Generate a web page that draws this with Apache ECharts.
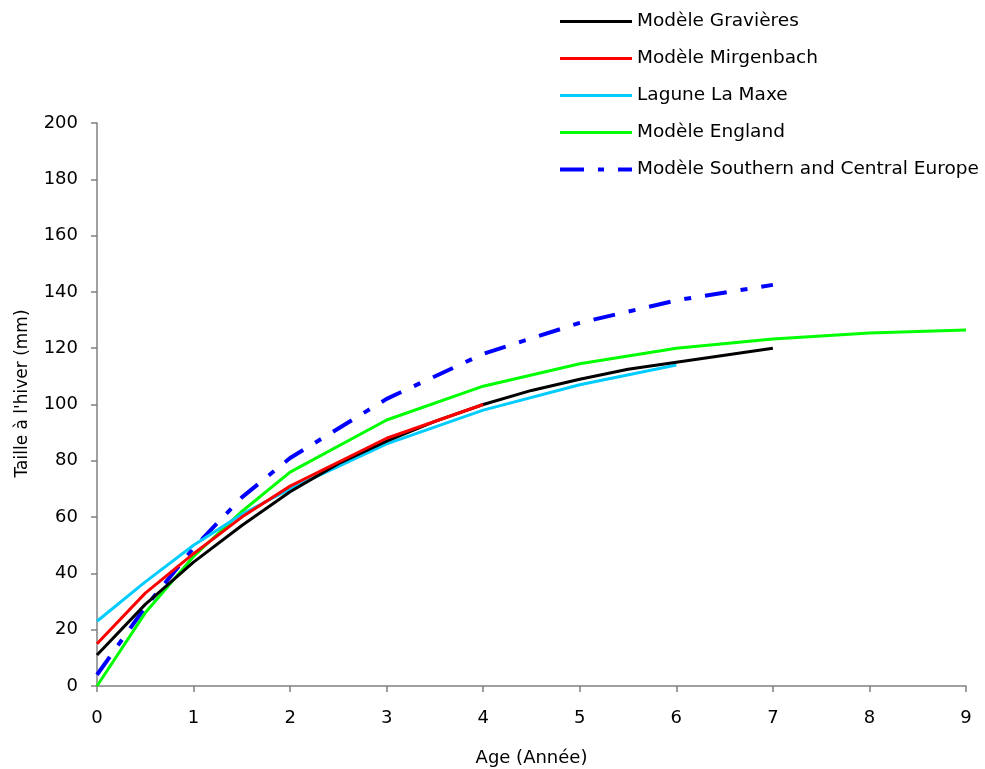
<!DOCTYPE html>
<html><head><meta charset="utf-8">
<script src="https://cdn.jsdelivr.net/npm/echarts@6/dist/echarts.min.js"></script>
<style>html,body{margin:0;padding:0;background:#fff}#c{width:985px;height:769px}</style>
</head><body><div id="c"></div>
<script>
const seriesNames = ["Modèle Gravières","Modèle Mirgenbach","Lagune La Maxe","Modèle England","Modèle Southern and Central Europe"];
const gravieresAge = [0,0.5,1,1.5,2,2.5,3,3.5,4,4.5,5,5.5,6,6.5,7];
const gravieresSize = [11,29,44,57,69,79,87,94,100,105,109,112.5,115,117.5,120];
const mirgenbachAge = [0,0.5,1,1.5,2,3,4];
const mirgenbachSize = [15,33,47,60,71,88,100];
const laMaxeAge = [0,0.5,1,1.5,2,3,4,5,6];
const laMaxeSize = [23,37,50,61,70,86,98,107,114];
const englandAge = [0,0.5,1,1.5,2,3,4,5,6,7,8,9];
const englandSize = [0,26,46,62,76,94.5,106.5,114.5,120,123.3,125.4,126.5];
const europeAge = [0,0.5,1,1.5,2,3,4,5,6,7];
const europeSize = [4,28,49,67,81,102,118,129,137,142.5];
const xTicks = [0,1,2,3,4,5,6,7,8,9];
const yTicks = [0,20,40,60,80,100,120,140,160,180,200];

const pairs = (a,b)=>a.map((v,i)=>[v,b[i]]);
const colors = ["#000000","#ff0000","#00ccff","#00ff00","#0000ff"];
const widths = [3,3,3,3,4];
const dashes = ['solid','solid','solid','solid',[22,14,7,14]];
const data = [pairs(gravieresAge,gravieresSize),pairs(mirgenbachAge,mirgenbachSize),pairs(laMaxeAge,laMaxeSize),pairs(englandAge,englandSize),pairs(europeAge,europeSize)];

const chart = echarts.init(document.getElementById('c'));
const font = "DejaVu Sans, sans-serif";
chart.setOption({
  animation:false,
  textStyle:{fontFamily:font},
  grid:{left:97,right:19,top:123,bottom:83,containLabel:false,outerBoundsMode:'none'},
  legend:{
    orient:'vertical', left:558, top:12, padding:0, itemWidth:72, itemHeight:22, itemGap:18,
    textStyle:{fontSize:18.5,color:'#000',fontFamily:font,padding:[0,0,0,0]},
    data:seriesNames.map((n,i)=>({name:n,itemStyle:{opacity:0},
      lineStyle:{color:colors[i],width:widths[i],type:i===4?[24,14,6,14]:'solid',cap:'butt'}}))
  },
  xAxis:{type:'value',min:xTicks[0],max:xTicks[xTicks.length-1],interval:1,
    name:'Age (Année)',nameLocation:'middle',nameGap:63,
    nameTextStyle:{fontSize:18,color:'#000',fontFamily:font},
    axisLine:{lineStyle:{color:'#808080',width:1.5}},
    axisTick:{lineStyle:{color:'#808080',width:1.5},length:6},
    axisLabel:{fontSize:18,color:'#000',margin:23,fontFamily:font},
    splitLine:{show:false}},
  yAxis:{type:'value',min:yTicks[0],max:yTicks[yTicks.length-1],interval:20,
    name:"Taille à l'hiver (mm)",nameLocation:'middle',nameGap:66,nameRotate:90,
    nameTextStyle:{fontSize:17,color:'#000',fontFamily:font,padding:[0,0,0,22]},
    axisLine:{show:true,lineStyle:{color:'#808080',width:1.5}},
    axisTick:{show:true,lineStyle:{color:'#808080',width:1.5},length:6},
    axisLabel:{fontSize:18,color:'#000',margin:19,fontFamily:font},
    splitLine:{show:false}},
  series:data.map((d,i)=>({
    name:seriesNames[i], type:'line', data:d, showSymbol:false, symbol:'none',
    color:colors[i],
    lineStyle:{color:colors[i],width:widths[i],type:dashes[i],cap:'butt'},
    z:i===4?1:(i===3?2:(i===2?3:(i===0?4:5)))
  }))
});
</script></body></html>
